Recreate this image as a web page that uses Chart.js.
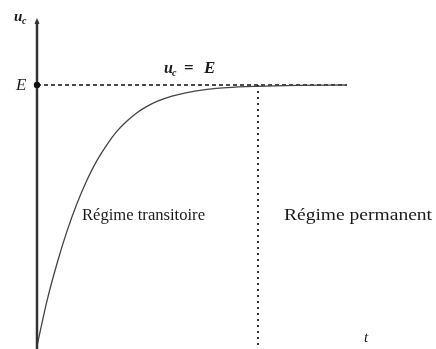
<!DOCTYPE html>
<html>
<head>
<meta charset="utf-8">
<script src="https://cdn.jsdelivr.net/npm/chart.js@4"></script>
<style>
  body { margin: 0; background: #fff; }
  #chart { display: block; }
</style>
</head>
<body>
<canvas id="chart" width="436" height="349"></canvas>
<script>
// charge du condensateur : u_c(t), E = 1
const times = [0, 10, 20, 30, 40, 50, 60, 70, 80, 90, 100, 110, 120, 135, 150, 170, 190, 220, 260, 310];
const ucValues = [0, 0.173, 0.316, 0.44, 0.546, 0.636, 0.711, 0.772, 0.823, 0.862, 0.894, 0.918, 0.937, 0.957, 0.971, 0.983, 0.99, 0.995, 0.9985, 1.0];

const E = 1;
const tEnd = 310;
const tPermanent = 221;

const labels = {
  yAxis: "u",
  ySub: "c",
  level: "E",
  asymptote: "u",
  xAxis: "t",
  transitoire: "Régime transitoire",
  permanent: "Régime permanent",
};

const SERIF = '"Liberation Serif", "DejaVu Serif", serif';

const decorations = {
  id: "decorations",
  afterDatasetsDraw(chart) {
    const ctx = chart.ctx;
    const x = chart.scales.x;
    const y = chart.scales.y;
    const x0 = x.getPixelForValue(0);
    const yE = y.getPixelForValue(E);

    ctx.save();

    // axe vertical + flèche
    ctx.strokeStyle = "#333";
    ctx.lineWidth = 2.5;
    ctx.beginPath();
    ctx.moveTo(x0, chart.height);
    ctx.lineTo(x0, 21);
    ctx.stroke();
    ctx.fillStyle = "#333";
    ctx.beginPath();
    ctx.moveTo(x0, 18);
    ctx.lineTo(x0 - 2.5, 24);
    ctx.lineTo(x0 + 2.5, 24);
    ctx.closePath();
    ctx.fill();

    // point E
    ctx.fillStyle = "#111";
    ctx.beginPath();
    ctx.arc(x0, yE, 3.2, 0, Math.PI * 2);
    ctx.fill();

    ctx.fillStyle = "#1a1a1a";
    ctx.textBaseline = "alphabetic";

    // u_c (axe)
    ctx.font = "bold italic 15px " + SERIF;
    ctx.fillText(labels.yAxis, 14, 21);
    ctx.font = "bold italic 10px " + SERIF;
    ctx.fillText(labels.ySub, 22, 24);

    // E
    ctx.font = "italic 17px " + SERIF;
    ctx.fillText(labels.level, 16, 90);

    // u_c = E
    ctx.font = "bold italic 16px " + SERIF;
    ctx.fillText(labels.asymptote, 164, 73);
    ctx.font = "bold italic 10px " + SERIF;
    ctx.fillText(labels.ySub, 172, 76);
    ctx.font = "bold 17px " + SERIF;
    ctx.fillText("=", 184, 73);
    ctx.font = "bold italic 17px " + SERIF;
    ctx.fillText(labels.level, 204, 73);

    // régimes
    ctx.font = "16px " + SERIF;
    let w = ctx.measureText(labels.transitoire).width;
    ctx.save();
    ctx.translate(82, 220);
    ctx.scale(123 / w, 1);
    ctx.fillText(labels.transitoire, 0, 0);
    ctx.restore();
    w = ctx.measureText(labels.permanent).width;
    ctx.save();
    ctx.translate(284, 220);
    ctx.scale(148 / w, 1);
    ctx.fillText(labels.permanent, 0, 0);
    ctx.restore();

    // t
    ctx.font = "italic 15px " + SERIF;
    ctx.fillText(labels.xAxis, 364, 342);

    ctx.restore();
  },
};

const ctx = document.getElementById("chart").getContext("2d");

new Chart(ctx, {
  type: "line",
  data: {
    datasets: [
      {
        label: "u_c",
        data: times.map((t, i) => ({ x: t, y: ucValues[i] })),
        borderColor: "#444",
        borderWidth: 1.3,
        pointRadius: 0,
        cubicInterpolationMode: "monotone",
      },
      {
        label: "E",
        data: [{ x: 0, y: E }, { x: tEnd, y: E }],
        borderColor: "#111",
        borderWidth: 1.5,
        borderDash: [4, 3],
        pointRadius: 0,
      },
      {
        label: "limite",
        data: [{ x: tPermanent, y: E }, { x: tPermanent, y: -0.02 }],
        borderColor: "#333",
        borderWidth: 2,
        borderDash: [2, 4],
        pointRadius: 0,
      },
    ],
  },
  options: {
    responsive: false,
    animation: false,
    layout: { padding: 0 },
    plugins: {
      legend: { display: false },
      tooltip: { enabled: false },
    },
    scales: {
      x: { type: "linear", display: false, min: -37, max: 399 },
      y: { display: false, min: -0.0115, max: 1.3257 },
    },
  },
  plugins: [decorations],
});
</script>
</body>
</html>
